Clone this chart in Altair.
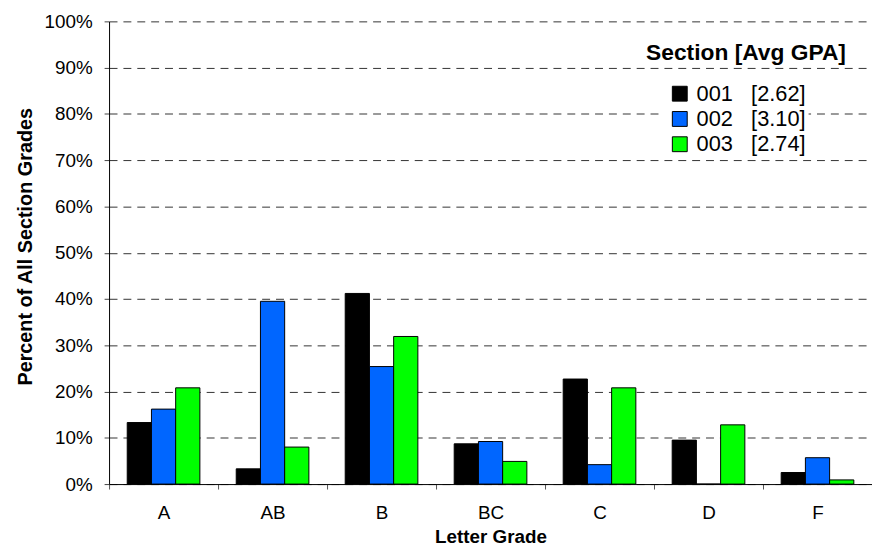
import altair as alt
import pandas as pd

# ---- data ----
grades = ["A", "AB", "B", "BC", "C", "D", "F"]
sections = ["001", "002", "003"]
avg_gpa = ["2.62", "3.10", "2.74"]
sec001 = [13.3, 3.3, 41.2, 8.7, 22.7, 9.5, 2.5]
sec002 = [16.2, 39.5, 25.4, 9.2, 4.2, 0.0, 5.7]
sec003 = [20.8, 8.0, 31.9, 4.9, 20.8, 12.8, 0.9]
colors = ["#000000", "#0066FF", "#00FF00"]
y_ticks = [0.0, 0.1, 0.2, 0.3, 0.4, 0.5, 0.6, 0.7, 0.8, 0.9, 1.0]
legend_title = "Section [Avg GPA]"
x_title = "Letter Grade"
y_title = "Percent of All Section Grades"

NB = "\u00a0"
labels = [f"{s}{NB * 3}[{g}]" for s, g in zip(sections, avg_gpa)]

rows = []
for lab, vals in zip(labels, [sec001, sec002, sec003]):
    for g, v in zip(grades, vals):
        rows.append({"grade": g, "section": lab, "pct": v / 100.0})
df = pd.DataFrame(rows)

FONT = "Liberation Sans"

bars = alt.Chart(df).mark_bar(stroke="black", strokeWidth=1).encode(
    x=alt.X(
        "grade:N",
        sort=grades,
        scale=alt.Scale(paddingInner=0, paddingOuter=0),
        axis=alt.Axis(
            title=x_title,
            labelAngle=0,
            tickBand="extent",
            domainColor="black",
            domainWidth=1,
            tickColor="#555555",
            tickSize=5,
            labelFont=FONT,
            labelFontSize=19,
            labelColor="black",
            labelPadding=15,
            titleFont=FONT,
            titleFontSize=19,
            titleFontWeight="bold",
            titleColor="black",
            titlePadding=5,
            grid=False,
        ),
    ),
    xOffset=alt.XOffset(
        "section:N",
        sort=labels,
        scale=alt.Scale(paddingInner=0, paddingOuter=0.75),
    ),
    y=alt.Y(
        "pct:Q",
        scale=alt.Scale(domain=[0, 1]),
        axis=alt.Axis(
            title=y_title,
            format=".0%",
            values=y_ticks,
            domainColor="black",
            domainWidth=1,
            tickColor="#444444",
            tickSize=5,
            labelFont=FONT,
            labelFontSize=19,
            labelColor="black",
            labelPadding=12,
            titleFont=FONT,
            titleFontSize=20,
            titleFontWeight="bold",
            titleColor="black",
            titlePadding=9,
            titleY=227,
            grid=True,
            gridColor="#333333",
            gridDash=[8, 6],
            gridWidth=1,
        ),
    ),
    color=alt.Color(
        "section:N",
        sort=labels,
        scale=alt.Scale(domain=labels, range=colors),
        legend=alt.Legend(
            title=None,
            orient="none",
            legendX=555,
            legendY=60,
            symbolType="square",
            symbolSize=225,
            symbolStrokeColor="black",
            symbolStrokeWidth=1,
            symbolOpacity=1,
            symbolOffset=8,
            labelFont=FONT,
            labelFontSize=22,
            labelColor="black",
            labelOffset=6,
            labelLimit=0,
            rowPadding=3.5,
            padding=2,
            fillColor="white",
        ),
    ),
)

title_df = pd.DataFrame({"t": [legend_title]})
legend_head = alt.Chart(title_df).mark_text(
    align="left",
    baseline="alphabetic",
    font=FONT,
    fontSize=23,
    fontWeight="bold",
    color="black",
).encode(text="t:N", x=alt.value(542), y=alt.value(39))

chart = (
    alt.layer(bars, legend_head)
    .properties(
        width=770,
        height=467,
        autosize=alt.AutoSizeParams(type="none"),
        padding={"left": 102, "top": 11, "right": 0, "bottom": 60},
        background="white",
    )
    .configure_view(stroke=None)
)

chart.save("out.html", embed_options={"renderer": "svg", "actions": False})
